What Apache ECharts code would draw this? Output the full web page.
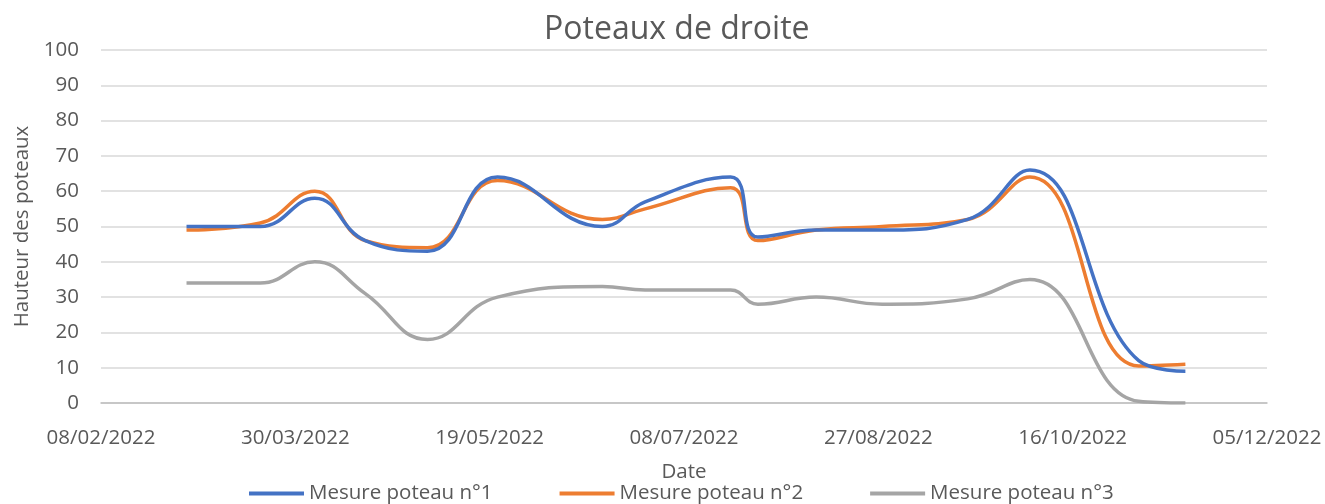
<!DOCTYPE html>
<html>
<head>
<meta charset="utf-8">
<script src="https://cdn.jsdelivr.net/npm/echarts@6/dist/echarts.min.js"></script>
<style>
html,body{margin:0;padding:0;background:#fff;}
#chart{width:1325px;height:504px;}
</style>
</head>
<body>
<div id="chart"></div>
<script>
var dates = ['2022-03-02','2022-03-21','2022-04-04','2022-04-17','2022-05-03','2022-05-21','2022-06-17','2022-06-28','2022-07-20','2022-07-27','2022-08-11','2022-08-28','2022-09-19','2022-10-05','2022-11-02','2022-11-14'];
var poteau1 = [50, 50, 58, 46, 43, 64, 50, 57, 64, 47, 49, 49, 52, 66, 12, 9];
var poteau2 = [49, 51, 60, 46, 44, 63, 52, 55, 61, 46, 49, 50, 52, 64, 10.5, 11];
var poteau3 = [34, 34, 40, 31, 18, 30, 33, 32, 32, 28, 30, 28, 29.5, 35, 0.5, 0];
var seriesNames = ['Mesure poteau n°1', 'Mesure poteau n°2', 'Mesure poteau n°3'];
var xStart = '2022-02-08';
var xEnd = '2022-12-05';
var xStepDays = 50;

var DAY = 86400000;
var t0 = Date.parse(xStart + 'T00:00:00Z');
function dayOffset(s){ return Math.round((Date.parse(s + 'T00:00:00Z') - t0) / DAY); }
function fmt(off){
  var d = new Date(t0 + off * DAY);
  var dd = ('0' + d.getUTCDate()).slice(-2), mm = ('0' + (d.getUTCMonth() + 1)).slice(-2);
  return dd + '/' + mm + '/' + d.getUTCFullYear();
}
function pairs(vals){ return dates.map(function(s, i){ return [dayOffset(s), vals[i]]; }); }

var font = '"Open Sans", "Noto Sans", sans-serif';
var txt = '#595959';
var fs = 20.5;
var colors = ['#4472C4', '#ED7D31', '#A5A5A5'];
var chart = echarts.init(document.getElementById('chart'));
chart.setOption({
  animation: false,
  color: colors,
  title: {text: 'Poteaux de droite', left: 539, top: 9,
    textStyle: {fontFamily: font, fontSize: 32, fontWeight: 'normal', color: txt}},
  grid: {left: 101, right: 58, top: 50, bottom: 101},
  legend: {left: 244, bottom: -5, icon: 'rect', itemWidth: 55, itemHeight: 4, itemGap: 67,
    textStyle: {fontFamily: font, fontSize: fs, color: txt},
    data: seriesNames},
  xAxis: {type: 'value', min: 0, max: dayOffset(xEnd), interval: xStepDays,
    name: 'Date', nameLocation: 'middle', nameGap: 59,
    nameTextStyle: {fontFamily: font, fontSize: fs, color: txt},
    axisLine: {lineStyle: {color: '#bfbfbf', width: 1.5}},
    axisTick: {show: false}, splitLine: {show: false},
    axisLabel: {formatter: fmt, margin: 25, fontFamily: font, fontSize: fs, color: txt}},
  yAxis: {type: 'value', min: 0, max: 100, interval: 10,
    name: 'Hauteur des poteaux', nameLocation: 'middle', nameGap: 66,
    nameTextStyle: {fontFamily: font, fontSize: fs, color: txt},
    axisLine: {show: false}, axisTick: {show: false},
    splitLine: {lineStyle: {color: '#d9d9d9', width: 1.5}},
    axisLabel: {margin: 22, fontFamily: font, fontSize: fs, color: txt}},
  series: [poteau1, poteau2, poteau3].map(function(v, i){
    return {name: seriesNames[i], type: 'line', data: pairs(v), smooth: 0.45,
      symbol: 'none', lineStyle: {width: 3.5, color: colors[i]}, z: 3 - i};
  })
});
</script>
</body>
</html>
